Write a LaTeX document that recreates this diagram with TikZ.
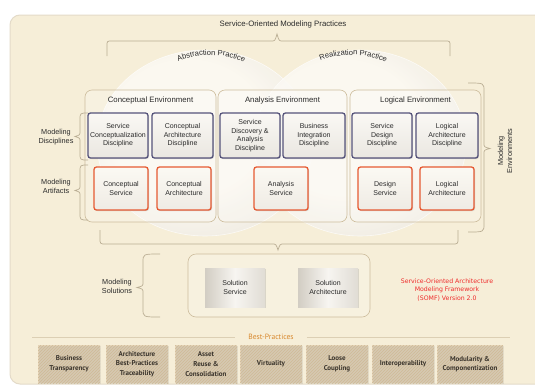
\documentclass[tikz,border=0pt]{standalone}
\usepackage{fontspec}
\setmainfont{Liberation Sans}
\newfontfamily\tilefont{PT Sans}
\newfontfamily\notefont{DejaVu Sans}
\usetikzlibrary{decorations.text,patterns,shadows}

\definecolor{panel}{HTML}{F6EED8}
\definecolor{panelrim}{HTML}{E4DBC9}
\definecolor{envline}{HTML}{CDBD9D}
\definecolor{braceline}{HTML}{B9AD93}
\definecolor{discline}{HTML}{55537A}
\definecolor{discTop}{HTML}{FAF8F4}
\definecolor{discBot}{HTML}{EAE7E1}
\definecolor{artline}{HTML}{E65A32}
\definecolor{artTop}{HTML}{FBF9F3}
\definecolor{artBot}{HTML}{EFEBE4}
\definecolor{solL}{HTML}{D2CDC3}
\definecolor{solM}{HTML}{F7F5F1}
\definecolor{solR}{HTML}{E0DCD4}
\definecolor{ink}{HTML}{2B2B2B}
\definecolor{bestorange}{HTML}{D8892E}
\definecolor{bestline}{HTML}{DCCFB4}
\definecolor{notered}{HTML}{EE2B2B}
\definecolor{tilefill}{HTML}{E6D6BB}
\definecolor{tilehatch}{HTML}{CFBA96}
\definecolor{tileink}{HTML}{3A342C}
\definecolor{domein}{HTML}{FCFAF5}
\definecolor{domemid}{HTML}{E9E5DC}
\definecolor{domeout}{HTML}{CFC8BB}

% soft sphere-like disc used for the two practice circles, lit from the upper left
\pgfdeclareradialshading{dome}{\pgfpoint{-6bp}{6bp}}{%
  color(0bp)=(domein); color(18bp)=(domein); color(38bp)=(domemid);
  color(50bp)=(domeout); color(60bp)=(domeout)}

\tikzset{
  labeltext/.style={font=\fontsize{7.3}{8.8}\selectfont, text=ink, align=center, inner sep=0pt},
  envtitle/.style={font=\fontsize{7.8}{9}\selectfont, text=ink, inner sep=0pt},
  envbox/.style={draw=envline, line width=0.6pt, rounded corners=7pt,
    fill=white, fill opacity=0.22, minimum height=132pt},
  discbox/.style={draw=discline, line width=1.3pt, rounded corners=2.5pt,
    top color=discTop, bottom color=discBot, minimum height=45pt,
    align=center, inner sep=0pt, font=\fontsize{7}{8.5}\selectfont, text=ink,
    drop shadow={opacity=0.3, shadow xshift=1pt, shadow yshift=-1pt}},
  artbox/.style={draw=artline, line width=1.3pt, rounded corners=2.5pt,
    top color=artTop, bottom color=artBot, minimum width=54pt, minimum height=43pt,
    align=center, inner sep=0pt, font=\fontsize{7}{8.5}\selectfont, text=ink,
    drop shadow={opacity=0.3, shadow xshift=1pt, shadow yshift=-1pt}},
  solframe/.style={draw=envline, line width=0.6pt, rounded corners=8pt,
    fill=white, fill opacity=0.2, minimum width=182pt, minimum height=63pt},
  solbox/.style={left color=solL, right color=solR, middle color=solM,
    minimum width=60pt, minimum height=39pt, align=center, inner sep=0pt,
    font=\fontsize{7}{8.5}\selectfont, text=ink,
    drop shadow={opacity=0.25, shadow xshift=1.2pt, shadow yshift=-1.2pt}},
  bracket/.style={draw=braceline, line width=0.7pt},
  dome/.style={shading=dome, fill opacity=0.85, draw=white, draw opacity=0.7, line width=0.6pt},
  arctext/.style={decorate, decoration={text along path, text align=center,
    text color=ink, text={|\fontsize{7.6}{9}\selectfont|#1}}},
  note/.style={font=\notefont\fontsize{6.2}{8.8}\selectfont, text=notered, align=center, inner sep=0pt},
  bestlabel/.style={font=\tilefont\fontsize{7.6}{9}\selectfont, text=bestorange, inner xsep=13pt, inner ysep=0pt},
  bestrule/.style={draw=bestline, line width=0.6pt},
  tile/.style={preaction={fill=tilefill}, pattern=north east lines, pattern color=tilehatch,
    minimum width=62pt, minimum height=38pt, align=center, inner sep=0pt,
    font=\tilefont\bfseries\fontsize{7}{9.6}\selectfont, text=tileink,
    drop shadow={opacity=0.15, shadow xshift=0.8pt, shadow yshift=-0.8pt}}
}

\begin{document}
\begin{tikzpicture}[x=1pt,y=-1pt]
\useasboundingbox (0,0) rectangle (535,386);
\fill[white] (0,0) rectangle (535,386);

% framework panel
\path[fill=panel, draw=panelrim, line width=1pt, rounded corners=10pt] (10,15) rectangle (550,384);

\node[envtitle] (title) at (283,24) {Service-Oriented Modeling Practices};

% brace under the title
\draw[bracket] (107,56) -- (107,46) .. controls (107,41) .. (112,41) -- (271,41)
  .. controls (275,41) .. (277,34) .. controls (279,41) .. (283,41) -- (445,41)
  .. controls (450,41) .. (450,46) -- (450,56);

% practice circles
\path[dome] (205,143) ellipse [x radius=108, y radius=93];
\path[dome] (360,143) ellipse [x radius=106, y radius=93];

\path[arctext={Abstraction Practice}] (168,67) .. controls (192,51) and (230,51) .. (254,68);
\path[arctext={Realization Practice}] (310,66) .. controls (334,51) and (372,51) .. (396,68);

% modeling environments
\node[envbox, minimum width=131pt] (envC) at (150.5,156) {};
\node[envbox, minimum width=129pt] (envA) at (282.5,156) {};
\node[envbox, minimum width=131pt] (envL) at (415.5,156) {};
\node[envtitle] (envCt) at (150.5,100) {Conceptual Environment};
\node[envtitle] (envAt) at (282.5,100) {Analysis Environment};
\node[envtitle] (envLt) at (415.5,100) {Logical Environment};

% disciplines
\node[discbox, minimum width=60pt] (d1) at (118,135.5) {Service\\Conceptualization\\Discipline};
\node[discbox, minimum width=61pt] (d2) at (182.5,135.5) {Conceptual\\Architecture\\Discipline};
\node[discbox, minimum width=60pt] (d3) at (250,135.5) {Service\\Discovery \&\\Analysis\\Discipline};
\node[discbox, minimum width=62pt] (d4) at (314,135.5) {Business\\Integration\\Discipline};
\node[discbox, minimum width=60pt] (d5) at (382,135.5) {Service\\Design\\Discipline};
\node[discbox, minimum width=62pt] (d6) at (447,135.5) {Logical\\Architecture\\Discipline};

% artifacts
\node[artbox] (a1) at (121,188.5) {Conceptual\\Service};
\node[artbox] (a2) at (184,188.5) {Conceptual\\Architecture};
\node[artbox] (a3) at (281,188.5) {Analysis\\Service};
\node[artbox] (a4) at (385,188.5) {Design\\Service};
\node[artbox] (a5) at (447,188.5) {Logical\\Architecture};

% side labels and braces
\node[labeltext] (mDisc) at (56,137) {Modeling\\Disciplines};
\draw[bracket] (88,113) .. controls (80,113) .. (80,120) -- (80,131)
  .. controls (80,135) .. (75,136.5) .. controls (80,138) .. (80,142) -- (80,153)
  .. controls (80,160) .. (88,160);
\node[labeltext] (mArt) at (56,186.5) {Modeling\\Artifacts};
\draw[bracket] (88,165) .. controls (80,165) .. (80,172) -- (80,185)
  .. controls (80,189) .. (75,190.5) .. controls (80,192) .. (80,196) -- (80,213)
  .. controls (80,220) .. (88,220);

\node[labeltext, rotate=90] (mEnv) at (505,151) {Modeling\\Environments};
\draw[bracket] (468,83) .. controls (484,83) .. (484,91) -- (484,143)
  .. controls (484,147) .. (490,148.5) .. controls (484,150) .. (484,154) -- (484,224)
  .. controls (484,232) .. (468,232);

% brace down to the solutions
\draw[bracket] (100,230) -- (100,238) .. controls (100,244) .. (106,244) -- (272,244)
  .. controls (276,244) .. (278,250) .. controls (280,244) .. (284,244) -- (452,244)
  .. controls (458,244) .. (458,238) -- (458,230);

% modeling solutions
\node[solframe] (solF) at (279,285.5) {};
\node[solbox] (s1) at (235,287.5) {Solution\\Service};
\node[solbox] (s2) at (328,287.5) {Solution\\Architecture};
\node[labeltext] (mSol) at (117,286.5) {Modeling\\Solutions};
\draw[bracket] (160,254) .. controls (143,254) .. (143,262) -- (143,282)
  .. controls (143,286) .. (137,287.5) .. controls (143,289) .. (143,293) -- (143,309)
  .. controls (143,317) .. (160,317);

\node[note] (somf) at (447,290) {Service-Oriented Architecture\\Modeling Framework\\(SOMF) Version 2.0};

% best practices
\node[bestlabel] (bp) at (271,337) {Best-Practices};
\coordinate (bpL) at (32,337);
\coordinate (bpR) at (510,337);
\draw[bestrule] (bpL) -- (bp.west);
\draw[bestrule] (bp.east) -- (bpR);

\node[tile] (t1) at (69,364) {Business\\Transparency};
\node[tile] (t2) at (137,364) {Architecture\\Best-Practices\\Traceability};
\node[tile] (t3) at (206,364) {Asset\\Reuse \&\\Consolidation};
\node[tile] (t4) at (271,364) {Virtuality};
\node[tile] (t5) at (337,364) {Loose\\Coupling};
\node[tile] (t6) at (403,364) {Interoperability};
\node[tile, minimum width=66pt] (t7) at (470,364) {Modularity \&\\Componentization};
\end{tikzpicture}
\end{document}
